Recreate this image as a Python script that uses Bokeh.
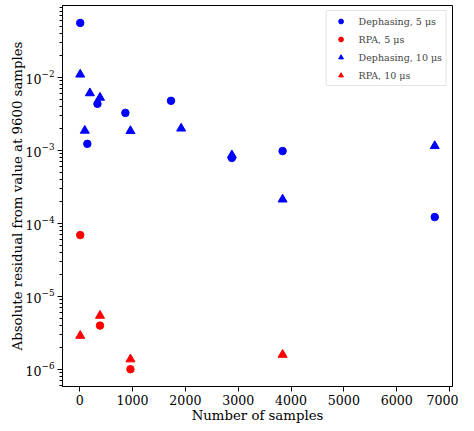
from bokeh.plotting import figure
from bokeh.models import Range1d, FixedTicker, Legend, LegendItem
from bokeh.embed import file_html
from bokeh.resources import INLINE

# ---- data ----
deph5_x = [9.6, 144, 336, 864, 1728, 2880, 3840, 6720]
deph5_y = [5.6e-2, 1.23e-3, 4.35e-3, 3.27e-3, 4.79e-3, 7.9e-4, 9.8e-4, 1.22e-4]
rpa5_x = [9.6, 384, 960]
rpa5_y = [6.9e-5, 3.96e-6, 1.0e-6]
deph10_x = [9.6, 96, 192, 384, 960, 1920, 2880, 3840, 6720]
deph10_y = [1.1e-2, 1.87e-3, 6.1e-3, 5.3e-3, 1.85e-3, 2.0e-3, 8.6e-4, 2.13e-4, 1.15e-3]
rpa10_x = [9.6, 384, 960, 3840]
rpa10_y = [2.88e-6, 5.43e-6, 1.37e-6, 1.58e-6]

x_ticks = [0, 1000, 2000, 3000, 4000, 5000, 6000, 7000]
y_decades = [-7, -6, -5, -4, -3, -2]
labels = ["Dephasing, 5 \u03bcs", "RPA, 5 \u03bcs", "Dephasing, 10 \u03bcs", "RPA, 10 \u03bcs"]
x_title = "Number of samples"
y_title = "Absolute residual from value at 9600 samples"

FONT = "DejaVu Serif"
X0, X1 = -326, 7056

p = figure(width=458, height=425, output_backend="svg", toolbar_location=None,
           y_axis_type="log",
           x_range=Range1d(X0, X1), y_range=Range1d(10 ** -6.237, 10 ** -1.013),
           min_border_left=62, min_border_right=6, min_border_top=5, min_border_bottom=39)

p.grid.visible = False
p.outline_line_color = "black"
p.outline_line_width = 1
p.background_fill_color = "white"
p.border_fill_color = "white"

r1 = p.scatter(deph5_x, deph5_y, marker="circle", size=7.5, color="#0000ff")
r2 = p.scatter(rpa5_x, rpa5_y, marker="circle", size=7.5, color="#ff0000")
r3 = p.scatter(deph10_x, deph10_y, marker="triangle", size=9, color="#0000ff")
r4 = p.scatter(rpa10_x, rpa10_y, marker="triangle", size=9, color="#ff0000")

# axes styling
p.xaxis.ticker = FixedTicker(ticks=x_ticks)
p.xaxis.major_label_overrides = {t: str(t) for t in x_ticks}
major = [10.0 ** d for d in y_decades]
minor = [k * 10.0 ** d for d in y_decades for k in range(2, 10)]
p.yaxis.ticker = FixedTicker(ticks=major, minor_ticks=minor)

for ax in (p.xaxis[0], p.yaxis[0]):
    ax.axis_line_color = "black"
    ax.major_tick_line_color = "black"
    ax.minor_tick_line_color = "black"
    ax.major_tick_out = 5
    ax.major_tick_in = 0
    ax.minor_tick_out = 3
    ax.minor_tick_in = 0
    ax.major_label_text_font = FONT
    ax.major_label_text_font_size = "12.6px"
    ax.major_label_text_color = "black"
    ax.axis_label_text_font = FONT
    ax.axis_label_text_font_size = "13.3px"
    ax.axis_label_text_font_style = "normal"
    ax.axis_label_text_color = "black"
    ax.major_label_standoff = 3
p.xaxis.minor_tick_line_color = None
p.xaxis.axis_label_standoff = 0
p.yaxis.axis_label_standoff = -3
p.xaxis.axis_label = x_title
p.yaxis.axis_label = y_title

legend = Legend(items=[LegendItem(label=labels[0], renderers=[r1]),
                       LegendItem(label=labels[1], renderers=[r2]),
                       LegendItem(label=labels[2], renderers=[r3]),
                       LegendItem(label=labels[3], renderers=[r4])],
                location="top_right", margin=5, padding=4, spacing=6,
                label_text_font=FONT, label_text_font_size="9.5px",
                label_height=12, glyph_height=12, glyph_width=20, label_standoff=8,
                border_line_color="#cccccc", border_line_width=1,
                background_fill_color="white", background_fill_alpha=0.8)
p.add_layout(legend)

open("out.html", "w").write(file_html(p, INLINE))
